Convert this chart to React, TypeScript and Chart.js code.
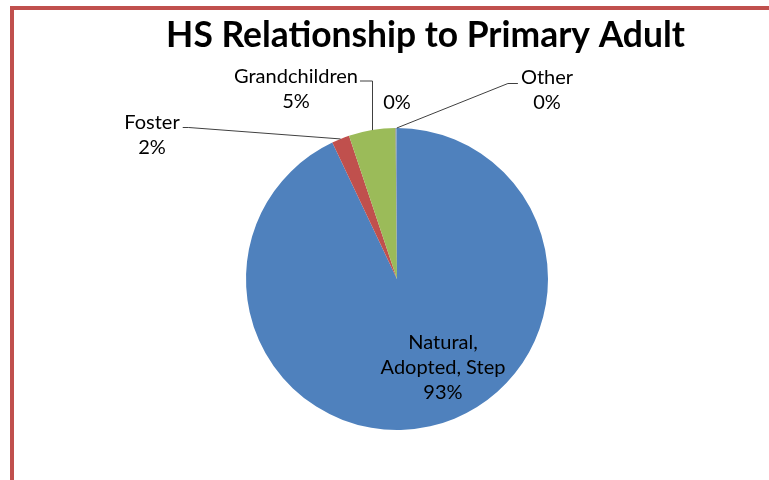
import React, { useEffect, useRef } from "react";
import { Chart, registerables } from "chart.js";

Chart.register(...registerables);

// ---- data ----
const title = "HS Relationship to Primary Adult";
const categories = ["Natural, Adopted, Step", "Foster", "Grandchildren", "", "Other"];
const labelLines = [["Natural,", "Adopted, Step"], ["Foster"], ["Grandchildren"], [], ["Other"]];
const values = [93.0, 1.9, 5.0, 0.1, 0.05];
const colors = ["#4F81BD", "#C0504D", "#9BBB59", "#8064A2", "#4BACC6"];

// ---- label layout (offsets from pie centre, px) ----
type Leader = "none" | "slantRight" | "elbowDown" | "slantLeft";
const LABEL_LAYOUT: { dx: number; dy: number; leader: Leader }[] = [
  { dx: 46, dy: 89, leader: "none" },
  { dx: -245, dy: -144, leader: "slantRight" },
  { dx: -101, dy: -190, leader: "elbowDown" },
  { dx: 0, dy: -176, leader: "none" },
  { dx: 150, dy: -189, leader: "slantLeft" },
];

const LABEL_FAMILY = "Lato, 'Noto Sans', sans-serif";
const TITLE_TARGET_WIDTH = 519;
const LABEL_TARGET_WIDTH = 125; // width of "Adopted, Step"
const LINE_H = 25;

const labelPlugin = {
  id: "excelLabels",
  afterDraw(chart: any) {
    const ctx: CanvasRenderingContext2D = chart.ctx;
    const meta = chart.getDatasetMeta(0);
    const a0: any = meta.data[0];
    const cx = a0.x;
    const cy = a0.y;
    const R = a0.outerRadius;
    const total = values.reduce((s, v) => s + v, 0);

    ctx.save();
    // title
    ctx.font = `bold 100px ${LABEL_FAMILY}`;
    const tw = ctx.measureText(title).width;
    const tSize = (100 * TITLE_TARGET_WIDTH) / tw;
    ctx.font = `bold ${tSize}px ${LABEL_FAMILY}`;
    ctx.fillStyle = "#000";
    ctx.textAlign = "center";
    ctx.textBaseline = "alphabetic";
    ctx.fillText(title, cx + 28.5, 47);

    // labels
    ctx.font = `100px ${LABEL_FAMILY}`;
    const lw = ctx.measureText("Adopted, Step").width;
    const lSize = (100 * LABEL_TARGET_WIDTH) / lw;
    ctx.font = `${lSize}px ${LABEL_FAMILY}`;
    ctx.textBaseline = "middle";

    meta.data.forEach((arc: any, i: number) => {
      const mid = (arc.startAngle + arc.endAngle) / 2;
      const ax = cx + Math.cos(mid) * R;
      const ay = cy + Math.sin(mid) * R;
      const pct = Math.round((values[i] / total) * 100) + "%";
      const lines = [...labelLines[i], pct];
      const L = LABEL_LAYOUT[i];
      const bx = cx + L.dx;
      const by = cy + L.dy;
      const y0 = by - ((lines.length - 1) * LINE_H) / 2;
      ctx.fillStyle = "#000";
      ctx.textAlign = "center";
      lines.forEach((t, k) => ctx.fillText(t, bx, y0 + k * LINE_H));

      const w = ctx.measureText(lines[0]).width;
      ctx.strokeStyle = "#404040";
      ctx.lineWidth = 1;
      ctx.beginPath();
      if (L.leader === "slantRight") {
        const sx = bx + w / 2 + 3;
        const sy = y0 + 5;
        ctx.moveTo(sx, sy);
        ctx.lineTo(sx + 6, sy);
        ctx.lineTo(ax, ay);
      } else if (L.leader === "elbowDown") {
        const sx = bx + w / 2 + 2;
        const sy = y0 + 4.5;
        ctx.moveTo(sx, sy);
        ctx.lineTo(Math.round(ax) + 0.5, sy);
        ctx.lineTo(Math.round(ax) + 0.5, ay);
      } else if (L.leader === "slantLeft") {
        const sx = bx - w / 2 - 3;
        const sy = y0 + 6;
        ctx.moveTo(sx, sy);
        ctx.lineTo(sx - 10, sy);
        ctx.lineTo(ax, ay);
      }
      ctx.stroke();
    });
    ctx.restore();
  },
};

export default function App() {
  const ref = useRef<HTMLCanvasElement | null>(null);

  useEffect(() => {
    document.body.style.margin = "0";
    const chart = new Chart(ref.current as HTMLCanvasElement, {
      type: "pie",
      data: {
        labels: categories,
        datasets: [
          {
            data: values,
            backgroundColor: colors,
            borderWidth: 0,
          },
        ],
      },
      options: {
        responsive: false,
        animation: false,
        devicePixelRatio: 1,
        layout: { padding: { left: 246, right: 221, top: 128, bottom: 50 } },
        plugins: {
          legend: { display: false },
          tooltip: { enabled: false },
          title: { display: false },
        },
      },
      plugins: [labelPlugin],
    } as any);
    return () => chart.destroy();
  }, []);

  return (
    <div style={{ position: "relative", width: 769, height: 480, overflow: "hidden", background: "#fff" }}>
      <div
        style={{
          position: "absolute",
          left: 10,
          top: 6,
          width: 900,
          height: 600,
          borderLeft: "4px solid #C0504D",
          borderTop: "4px solid #C0504D",
        }}
      />
      <canvas ref={ref} width={769} height={480} style={{ position: "absolute", left: 0, top: 0 }} />
    </div>
  );
}
